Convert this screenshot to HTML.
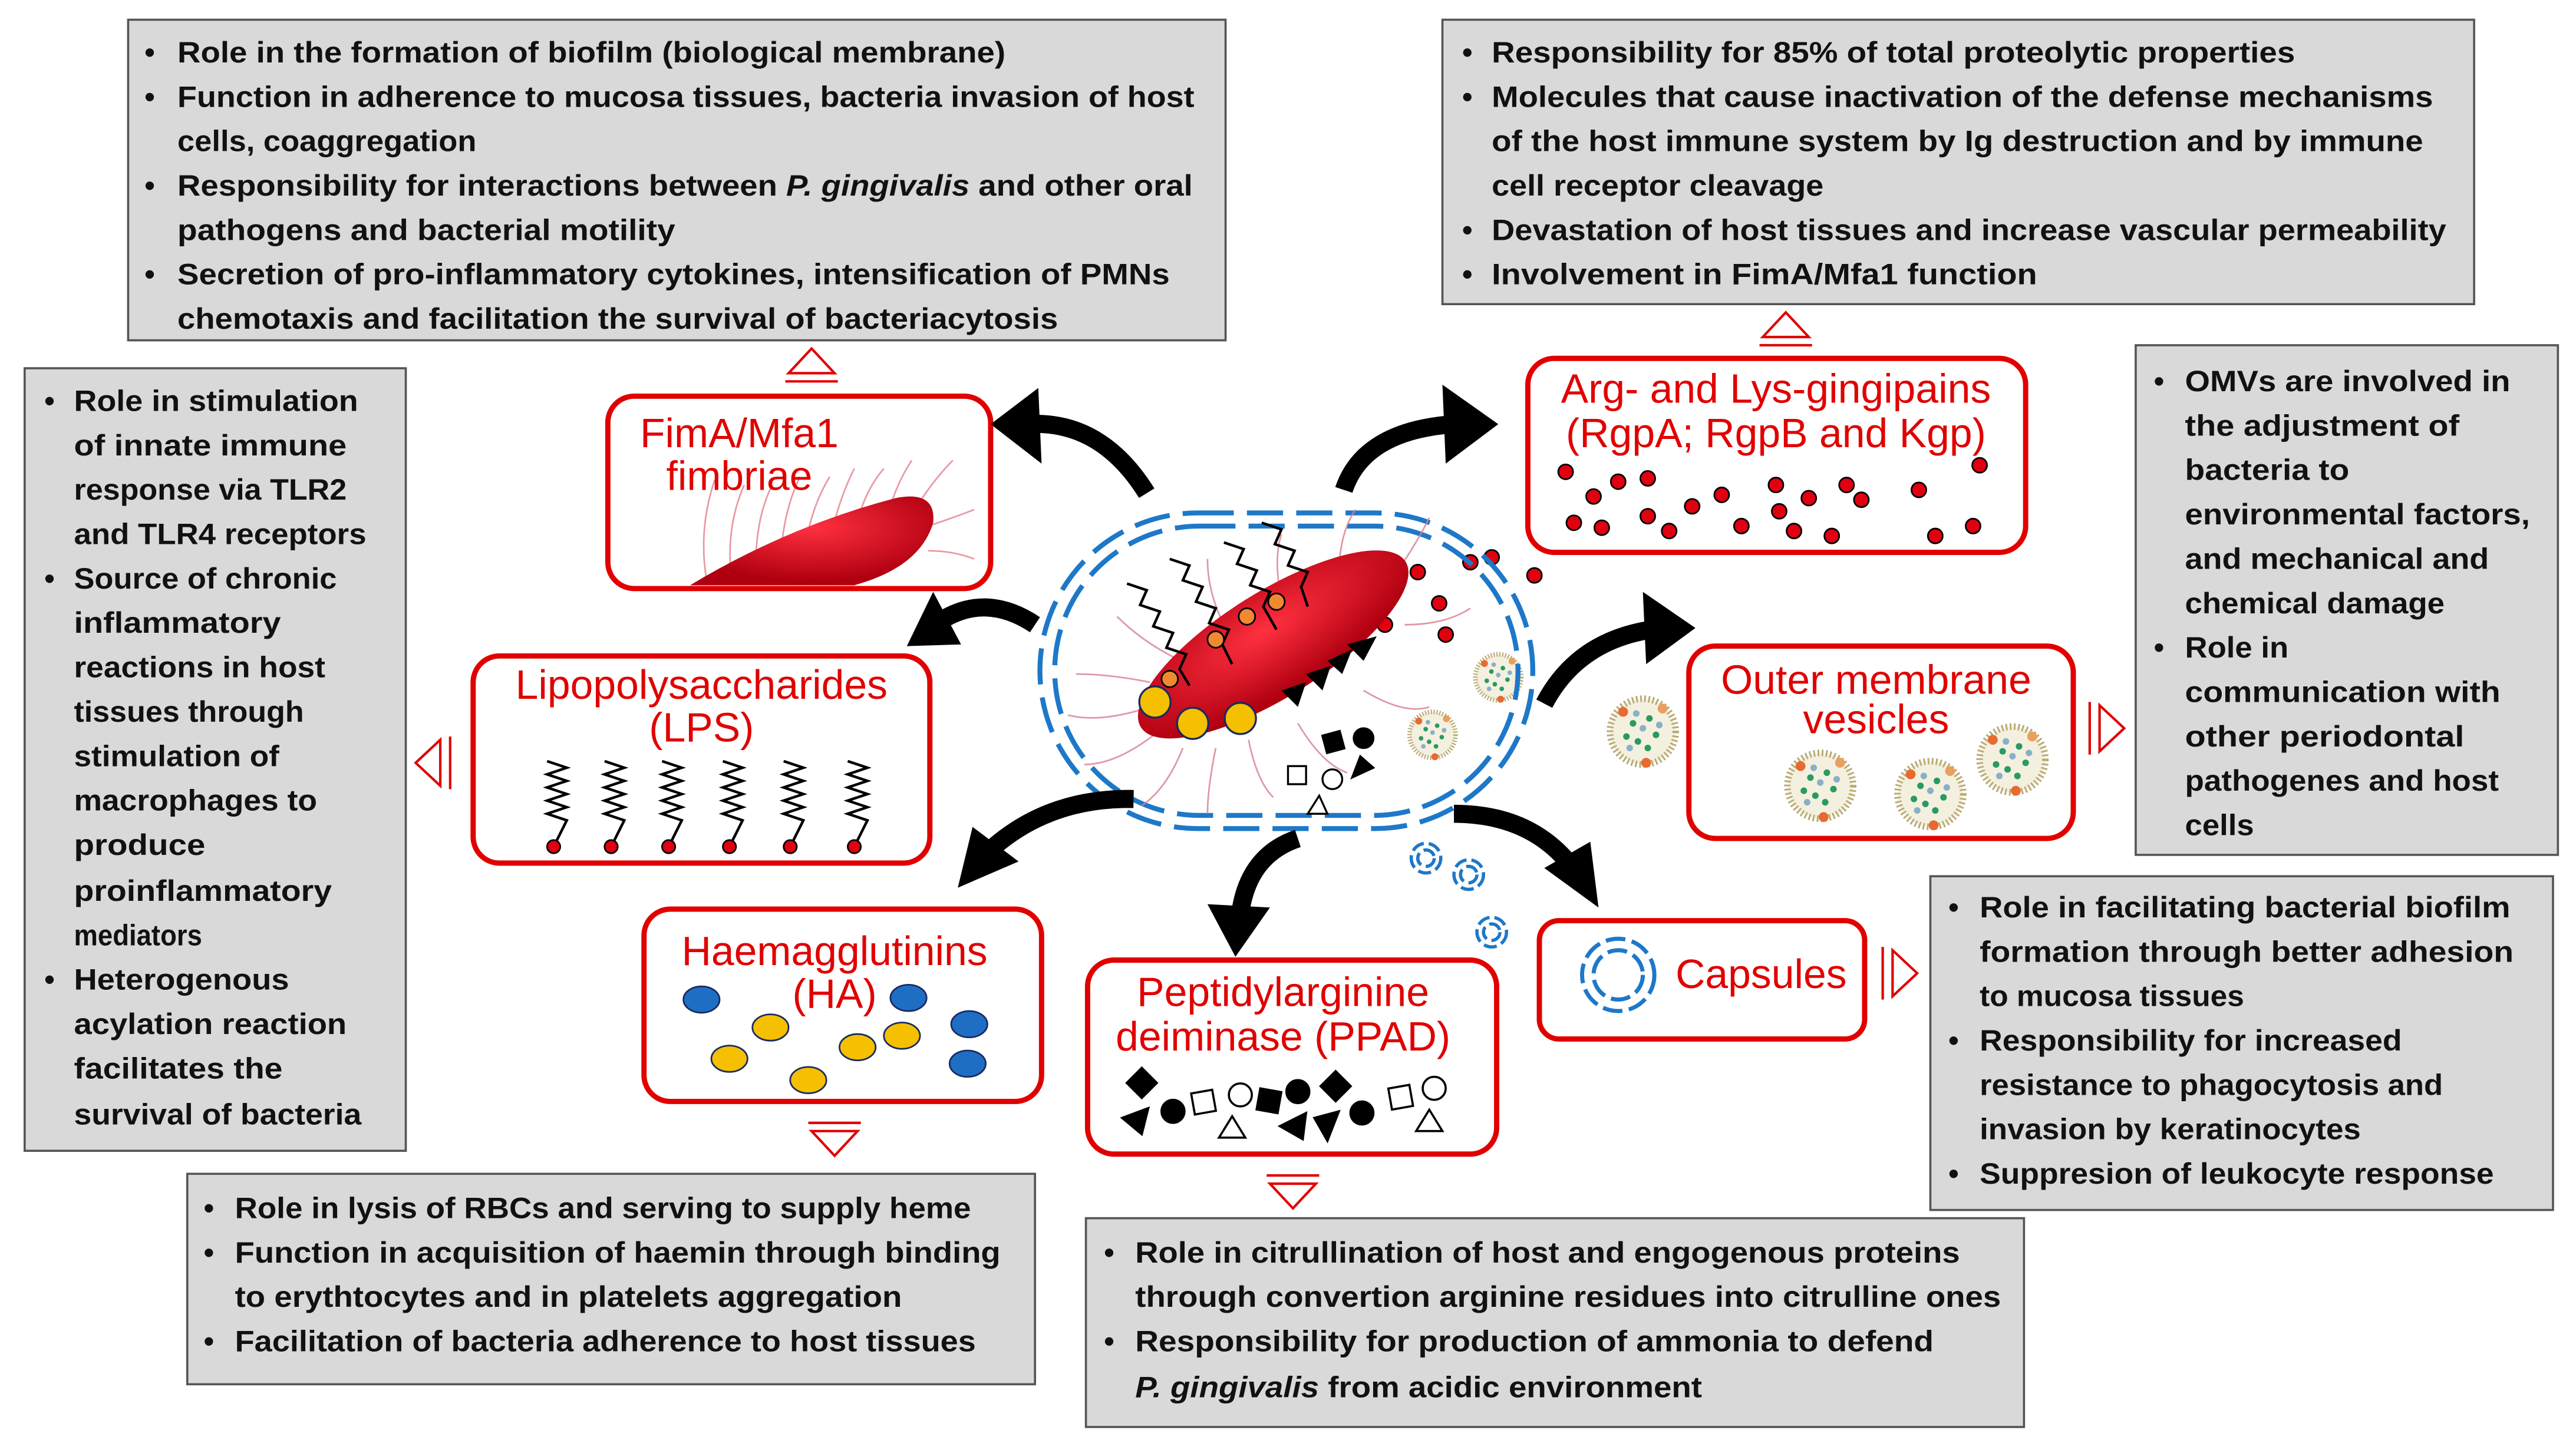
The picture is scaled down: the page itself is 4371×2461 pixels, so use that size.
<!DOCTYPE html>
<html><head><meta charset="utf-8"><style>
html,body{margin:0;padding:0;background:#fff}
svg{display:block}
.t{font-family:"Liberation Sans",sans-serif;font-size:18px;font-weight:bold;fill:#111}
.r{font-family:"Liberation Sans",sans-serif;font-size:25px;fill:#e00000}
.g{fill:#d9d9d9;stroke:#555;stroke-width:1.3}
.rb{fill:#fff;stroke:#e00000;stroke-width:3.2}
.tri{fill:none;stroke:#e00000;stroke-width:1.5}
.ar{fill:none;stroke:#000;stroke-width:11}
</style></head><body>
<svg width="4371" height="2461" viewBox="0 0 1568 882" preserveAspectRatio="none" xmlns="http://www.w3.org/2000/svg">
<defs>
<radialGradient id="bg" cx="0.5" cy="0.35" r="0.6"><stop offset="0" stop-color="#ff3040"/><stop offset="1" stop-color="#b00010"/></radialGradient>
<g id="v"><circle r="20" fill="#f4f0e0" stroke="#b8a870" stroke-width="4" stroke-dasharray="1 1.5"/>
<g fill="#2a9a60"><circle cx="-6" cy="-5" r="2"/><circle cx="4" cy="-8" r="2"/><circle cx="8" cy="2" r="2"/><circle cx="-3" cy="6" r="2"/><circle cx="3" cy="10" r="2"/><circle cx="-10" cy="3" r="2"/></g>
<g fill="#8ab0c8"><circle cx="0" cy="-2" r="2"/><circle cx="-4" cy="-11" r="2"/><circle cx="10" cy="-4" r="2"/><circle cx="-8" cy="10" r="2"/></g>
<circle cx="-12" cy="-12" r="3" fill="#e86a30"/><circle cx="12" cy="-14" r="3" fill="#e8a060"/><circle cx="2" cy="19" r="3" fill="#e86a30"/></g>
<path id="zz" d="M333 463 l12 4 l-12 4 l12 4 l-12 4 l12 4 l-12 4 l12 4 l-12 4 l12 4 l-6 12" fill="none" stroke="#000" stroke-width="1.6"/>
</defs>
<rect class="g" x="78" y="12" width="668" height="195"/>
<rect class="g" x="878" y="12" width="628" height="173"/>
<rect class="g" x="15" y="224" width="232" height="476"/>
<rect class="g" x="1300" y="210" width="257" height="310"/>
<rect class="g" x="1175" y="533" width="379" height="203"/>
<rect class="g" x="114" y="714" width="516" height="128"/>
<rect class="g" x="661" y="741" width="571" height="127"/>

<g class="t">
<text x="88" y="38">•</text><text x="108" y="38" textLength="504" lengthAdjust="spacingAndGlyphs">Role in the formation of biofilm (biological membrane)</text>
<text x="88" y="65">•</text><text x="108" y="65" textLength="619" lengthAdjust="spacingAndGlyphs">Function in adherence to mucosa tissues, bacteria invasion   of host</text>
<text x="108" y="92" textLength="182" lengthAdjust="spacingAndGlyphs">cells, coaggregation</text>
<text x="88" y="119">•</text><text x="108" y="119" textLength="618" lengthAdjust="spacingAndGlyphs">Responsibility for interactions between <tspan font-style="italic">P. gingivalis</tspan> and other oral</text>
<text x="108" y="146" textLength="303" lengthAdjust="spacingAndGlyphs">pathogens and bacterial motility</text>
<text x="88" y="173">•</text><text x="108" y="173" textLength="604" lengthAdjust="spacingAndGlyphs">Secretion of pro-inflammatory cytokines, intensification of PMNs</text>
<text x="108" y="200" textLength="536" lengthAdjust="spacingAndGlyphs">chemotaxis and facilitation the survival of bacteriacytosis</text>
</g>
<g class="t">
<text x="890" y="38">•</text><text x="908" y="38" textLength="489" lengthAdjust="spacingAndGlyphs">Responsibility for 85% of total proteolytic properties</text>
<text x="890" y="65">•</text><text x="908" y="65" textLength="573" lengthAdjust="spacingAndGlyphs">Molecules that cause inactivation of the defense mechanisms</text>
<text x="908" y="92" textLength="567" lengthAdjust="spacingAndGlyphs">of the host immune system  by Ig destruction and by immune</text>
<text x="908" y="119" textLength="202" lengthAdjust="spacingAndGlyphs">cell receptor cleavage</text>
<text x="890" y="146">•</text><text x="908" y="146" textLength="581" lengthAdjust="spacingAndGlyphs">Devastation of host tissues and increase vascular permeability</text>
<text x="890" y="173">•</text><text x="908" y="173" textLength="332" lengthAdjust="spacingAndGlyphs">Involvement in FimA/Mfa1 function</text>
</g>
<g class="t">
<text x="27" y="250">•</text><text x="45" y="250" textLength="173" lengthAdjust="spacingAndGlyphs">Role in stimulation</text>
<text x="45" y="277" textLength="166" lengthAdjust="spacingAndGlyphs">of innate immune</text>
<text x="45" y="304" textLength="166" lengthAdjust="spacingAndGlyphs">response via TLR2</text>
<text x="45" y="331" textLength="178" lengthAdjust="spacingAndGlyphs">and TLR4 receptors</text>
<text x="27" y="358">•</text><text x="45" y="358" textLength="160" lengthAdjust="spacingAndGlyphs">Source of chronic</text>
<text x="45" y="385" textLength="126" lengthAdjust="spacingAndGlyphs">inflammatory</text>
<text x="45" y="412" textLength="153" lengthAdjust="spacingAndGlyphs">reactions in host</text>
<text x="45" y="439" textLength="140" lengthAdjust="spacingAndGlyphs">tissues through</text>
<text x="45" y="466" textLength="125" lengthAdjust="spacingAndGlyphs">stimulation of</text>
<text x="45" y="493" textLength="148" lengthAdjust="spacingAndGlyphs">macrophages to</text>
<text x="45" y="520" textLength="80" lengthAdjust="spacingAndGlyphs">produce</text>
<text x="45" y="548" textLength="157" lengthAdjust="spacingAndGlyphs">proinflammatory</text>
<text x="45" y="575" textLength="78" lengthAdjust="spacingAndGlyphs">mediators</text>
<text x="27" y="602">•</text><text x="45" y="602" textLength="131" lengthAdjust="spacingAndGlyphs">Heterogenous</text>
<text x="45" y="629" textLength="166" lengthAdjust="spacingAndGlyphs">acylation reaction</text>
<text x="45" y="656" textLength="127" lengthAdjust="spacingAndGlyphs">facilitates the</text>
<text x="45" y="684" textLength="175" lengthAdjust="spacingAndGlyphs">survival of bacteria</text>
</g>
<g class="t">
<text x="1311" y="238">•</text><text x="1330" y="238" textLength="198" lengthAdjust="spacingAndGlyphs">OMVs are involved in</text>
<text x="1330" y="265" textLength="167" lengthAdjust="spacingAndGlyphs">the adjustment of</text>
<text x="1330" y="292" textLength="100" lengthAdjust="spacingAndGlyphs">bacteria to</text>
<text x="1330" y="319" textLength="210" lengthAdjust="spacingAndGlyphs">environmental factors,</text>
<text x="1330" y="346" textLength="185" lengthAdjust="spacingAndGlyphs">and mechanical and</text>
<text x="1330" y="373" textLength="158" lengthAdjust="spacingAndGlyphs">chemical damage</text>
<text x="1311" y="400">•</text><text x="1330" y="400" textLength="63" lengthAdjust="spacingAndGlyphs">Role in</text>
<text x="1330" y="427" textLength="192" lengthAdjust="spacingAndGlyphs">communication with</text>
<text x="1330" y="454" textLength="170" lengthAdjust="spacingAndGlyphs">other periodontal</text>
<text x="1330" y="481" textLength="191" lengthAdjust="spacingAndGlyphs">pathogenes and host</text>
<text x="1330" y="508" textLength="42" lengthAdjust="spacingAndGlyphs">cells</text>
</g>
<g class="t">
<text x="1186" y="558">•</text><text x="1205" y="558" textLength="323" lengthAdjust="spacingAndGlyphs">Role in facilitating bacterial biofilm</text>
<text x="1205" y="585" textLength="325" lengthAdjust="spacingAndGlyphs">formation through better adhesion</text>
<text x="1205" y="612" textLength="161" lengthAdjust="spacingAndGlyphs">to mucosa tissues</text>
<text x="1186" y="639">•</text><text x="1205" y="639" textLength="257" lengthAdjust="spacingAndGlyphs">Responsibility for increased</text>
<text x="1205" y="666" textLength="282" lengthAdjust="spacingAndGlyphs">resistance to phagocytosis and</text>
<text x="1205" y="693" textLength="232" lengthAdjust="spacingAndGlyphs">invasion by keratinocytes</text>
<text x="1186" y="720">•</text><text x="1205" y="720" textLength="313" lengthAdjust="spacingAndGlyphs">Suppresion of leukocyte response</text>
</g>
<g class="t">
<text x="124" y="741">•</text><text x="143" y="741" textLength="448" lengthAdjust="spacingAndGlyphs">Role in lysis of RBCs and serving to supply heme</text>
<text x="124" y="768">•</text><text x="143" y="768" textLength="466" lengthAdjust="spacingAndGlyphs">Function in acquisition of haemin through binding</text>
<text x="143" y="795" textLength="406" lengthAdjust="spacingAndGlyphs">to erythtocytes and in platelets aggregation</text>
<text x="124" y="822">•</text><text x="143" y="822" textLength="451" lengthAdjust="spacingAndGlyphs">Facilitation of bacteria adherence to host tissues</text>
</g>
<g class="t">
<text x="672" y="768">•</text><text x="691" y="768" textLength="502" lengthAdjust="spacingAndGlyphs">Role in citrullination of host and engogenous proteins</text>
<text x="691" y="795" textLength="527" lengthAdjust="spacingAndGlyphs">through convertion arginine residues into citrulline ones</text>
<text x="672" y="822">•</text><text x="691" y="822" textLength="486" lengthAdjust="spacingAndGlyphs">Responsibility for production of ammonia to defend</text>
<text x="691" y="850" textLength="345" lengthAdjust="spacingAndGlyphs"><tspan font-style="italic">P. gingivalis</tspan> from acidic environment</text>
</g>

<rect class="rb" x="370" y="241" width="233" height="117" rx="16"/>
<rect class="rb" x="930" y="218" width="303" height="118" rx="16"/>
<rect class="rb" x="288" y="399" width="278" height="126" rx="16"/>
<rect class="rb" x="1028" y="393" width="234" height="117" rx="16"/>
<rect class="rb" x="392" y="553" width="242" height="117" rx="16"/>
<rect class="rb" x="662" y="584" width="249" height="118" rx="16"/>
<rect class="rb" x="937" y="560" width="198" height="72" rx="12"/>

<g stroke="#e07080" stroke-width="1" fill="none" opacity="0.7">
<path d="M430 352 q-5 -30 5 -60"/><path d="M445 350 q-3 -30 8 -55"/><path d="M460 345 q0 -30 10 -50"/><path d="M475 340 q2 -30 12 -50"/><path d="M490 335 q3 -25 15 -45"/><path d="M505 330 q5 -25 15 -45"/><path d="M520 325 q5 -25 18 -40"/><path d="M540 315 q5 -20 15 -35"/><path d="M560 305 q10 -15 20 -25"/><path d="M565 320 q15 -5 28 -10"/><path d="M565 335 q15 0 28 5"/>
</g>
<path d="M420 356 Q480 320 545 303 Q570 298 568 318 Q560 345 520 356 Z" fill="url(#bg)"/>
<text class="r" x="450" y="272" text-anchor="middle">FimA/Mfa1</text>
<text class="r" x="450" y="298" text-anchor="middle">fimbriae</text>

<text class="r" x="1081" y="245" text-anchor="middle">Arg- and Lys-gingipains</text>
<text class="r" x="1081" y="272" text-anchor="middle">(RgpA; RgpB and Kgp)</text>
<g fill="#e00010" stroke="#000" stroke-width="1">
<circle cx="953" cy="287" r="4.5"/><circle cx="985" cy="293" r="4.5"/><circle cx="1003" cy="291" r="4.5"/><circle cx="970" cy="302" r="4.5"/><circle cx="1030" cy="308" r="4.5"/><circle cx="1048" cy="301" r="4.5"/><circle cx="1081" cy="295" r="4.5"/><circle cx="1101" cy="303" r="4.5"/><circle cx="1124" cy="295" r="4.5"/><circle cx="1133" cy="304" r="4.5"/><circle cx="1168" cy="298" r="4.5"/><circle cx="1205" cy="283" r="4.5"/><circle cx="958" cy="318" r="4.5"/><circle cx="975" cy="321" r="4.5"/><circle cx="1003" cy="314" r="4.5"/><circle cx="1016" cy="323" r="4.5"/><circle cx="1060" cy="320" r="4.5"/><circle cx="1083" cy="311" r="4.5"/><circle cx="1092" cy="323" r="4.5"/><circle cx="1115" cy="326" r="4.5"/><circle cx="1178" cy="326" r="4.5"/><circle cx="1201" cy="320" r="4.5"/>
<circle cx="895" cy="342" r="4.5"/><circle cx="908" cy="339" r="4.5"/><circle cx="934" cy="350" r="4.5"/><circle cx="880" cy="386" r="4.5"/><circle cx="876" cy="367" r="4.5"/><circle cx="863" cy="348" r="4.5"/><circle cx="848" cy="358" r="4.5"/><circle cx="840" cy="372" r="4.5"/><circle cx="820" cy="352" r="4.5"/><circle cx="843" cy="380" r="4.5"/>
</g>

<text class="r" x="427" y="425" text-anchor="middle">Lipopolysaccharides</text>
<text class="r" x="427" y="451" text-anchor="middle">(LPS)</text>
<use href="#zz"/><use href="#zz" x="35"/><use href="#zz" x="70"/><use href="#zz" x="107"/><use href="#zz" x="144"/><use href="#zz" x="183"/>
<g fill="#e00010" stroke="#000" stroke-width="1"><circle cx="337" cy="515" r="4"/><circle cx="372" cy="515" r="4"/><circle cx="407" cy="515" r="4"/><circle cx="444" cy="515" r="4"/><circle cx="481" cy="515" r="4"/><circle cx="520" cy="515" r="4"/></g>

<text class="r" x="1142" y="422" text-anchor="middle">Outer membrane</text>
<text class="r" x="1142" y="446" text-anchor="middle">vesicles</text>

<text class="r" x="508" y="587" text-anchor="middle">Haemagglutinins</text>
<text class="r" x="508" y="613" text-anchor="middle">(HA)</text>
<g stroke="#1a2a60" stroke-width="1">
<g fill="#1e6fc4"><ellipse cx="427" cy="608" rx="11" ry="8"/><ellipse cx="553" cy="607" rx="11" ry="8"/><ellipse cx="590" cy="623" rx="11" ry="8"/><ellipse cx="589" cy="647" rx="11" ry="8"/></g>
<g fill="#f5c000"><ellipse cx="469" cy="625" rx="11" ry="8"/><ellipse cx="522" cy="637" rx="11" ry="8"/><ellipse cx="549" cy="630" rx="11" ry="8"/><ellipse cx="444" cy="644" rx="11" ry="8"/><ellipse cx="492" cy="657" rx="11" ry="8"/></g>
</g>

<text class="r" x="781" y="612" text-anchor="middle">Peptidylarginine</text>
<text class="r" x="781" y="639" text-anchor="middle">deiminase (PPAD)</text>
<g stroke="#000" stroke-width="1.3">
<rect x="689" y="652" width="13" height="13" transform="rotate(45 695 658)"/>
<polygon points="683,680 699,674 695,690"/>
<circle cx="714" cy="676" r="7"/>
<rect x="726" y="664" width="13" height="13" fill="#fff" transform="rotate(-10 732 670)"/>
<circle cx="755" cy="666" r="7" fill="#fff"/>
<polygon points="742,692 758,692 750,679" fill="#fff"/>
<rect x="766" y="663" width="13" height="13" transform="rotate(10 772 669)"/>
<circle cx="790" cy="664" r="7"/>
<polygon points="779,685 795,677 793,693"/>
<rect x="807" y="654" width="13" height="13" transform="rotate(45 813 660)"/>
<polygon points="800,680 815,676 808,694"/>
<circle cx="829" cy="677" r="7"/>
<rect x="846" y="661" width="13" height="13" fill="#fff" transform="rotate(-10 852 667)"/>
<circle cx="873" cy="662" r="7" fill="#fff"/>
<polygon points="862,688 878,688 870,675" fill="#fff"/>
</g>

<text class="r" x="1072" y="601" text-anchor="middle">Capsules</text>
<g fill="none" stroke="#1e78c8" stroke-width="2.5" stroke-dasharray="12 4">
<circle cx="985" cy="593" r="22"/><circle cx="985" cy="593" r="15"/>
</g>

<use href="#v" x="1000" y="445"/><use href="#v" x="1108" y="478"/><use href="#v" x="1175" y="483"/><use href="#v" x="1225" y="462"/>
<use href="#v" transform="translate(912 412) scale(0.7)"/><use href="#v" transform="translate(872 447) scale(0.7)"/>

<g fill="none" stroke="#1e78c8" stroke-width="3" stroke-dasharray="22 8">
<rect x="633" y="312" width="300" height="192" rx="96"/>
<rect x="642" y="320" width="282" height="176" rx="88"/>
</g>
<g stroke="#d88090" stroke-width="1" fill="none" opacity="0.8">
<path d="M700 430 q-30 10 -50 5"/><path d="M705 445 q-25 20 -45 20"/><path d="M720 455 q-10 25 -25 35"/><path d="M740 455 q-5 25 -5 40"/><path d="M760 450 q5 25 15 35"/><path d="M790 440 q15 25 30 30"/><path d="M830 420 q25 15 40 10"/><path d="M855 380 q25 0 40 -10"/><path d="M845 355 q15 -20 25 -40"/><path d="M815 350 q0 -25 10 -40"/><path d="M780 365 q-5 -25 0 -40"/><path d="M745 380 q-10 -20 -10 -40"/><path d="M715 400 q-20 -10 -35 -25"/><path d="M700 415 q-25 -5 -45 -5"/>
</g>
<ellipse cx="775" cy="392" rx="95" ry="32" transform="rotate(-32 775 392)" fill="url(#bg)"/>
<g fill="none" stroke="#000" stroke-width="1.6">
<path d="M686 355 l12 4 l-4 9 l12 4 l-4 9 l12 4 l-4 9 l12 4 l-4 9 l6 10"/>
<path d="M712 340 l12 4 l-4 9 l12 4 l-4 9 l12 4 l-4 9 l12 4 l-4 9 l6 12"/>
<path d="M745 330 l12 4 l-4 9 l12 4 l-4 9 l12 4 l-4 9 l8 14"/>
<path d="M768 318 l12 4 l-4 9 l12 4 l-4 9 l12 4 l-4 9 l4 12"/>
</g>
<g fill="#f08a30" stroke="#000" stroke-width="1"><circle cx="712" cy="413" r="5"/><circle cx="740" cy="389" r="5"/><circle cx="759" cy="375" r="5"/><circle cx="777" cy="366" r="5"/></g>
<g fill="#f5c000" stroke="#1a2a60" stroke-width="1.2"><circle cx="703" cy="427" r="9.5"/><circle cx="726" cy="440" r="9.5"/><circle cx="755" cy="437" r="9.5"/></g>
<g fill="#000"><polygon points="780,420 795,415 790,430"/><polygon points="795,410 810,405 805,420"/><polygon points="808,402 823,395 817,410"/><polygon points="820,392 838,387 830,402"/></g>
<g stroke="#000" stroke-width="1.2"><rect x="806" y="446" width="11" height="11" transform="rotate(-15 811 451)"/><circle cx="830" cy="449" r="6"/><polygon points="823,473 836,467 828,460"/><rect x="784" y="466" width="11" height="11" fill="#fff"/><circle cx="811" cy="474" r="6" fill="#fff"/><polygon points="796,495 808,495 803,484" fill="#fff"/></g>
<g fill="none" stroke="#1e78c8" stroke-width="2" stroke-dasharray="8 3"><circle cx="868" cy="522" r="9"/><circle cx="868" cy="522" r="5"/><circle cx="894" cy="532" r="9"/><circle cx="894" cy="532" r="5"/><circle cx="908" cy="567" r="9"/><circle cx="908" cy="567" r="5"/></g>

<g>
<path class="ar" d="M698 300 Q670 255 625 258"/><polygon points="603,258 632,236 634,282" fill="#000"/>
<path class="ar" d="M818 298 Q830 262 885 258"/><polygon points="912,258 878,234 880,282" fill="#000"/>
<path class="ar" d="M630 380 Q600 360 572 378"/><polygon points="552,393 568,360 585,392" fill="#000"/>
<path class="ar" d="M940 428 Q960 390 1005 383"/><polygon points="1032,382 1000,360 1002,404" fill="#000"/>
<path class="ar" d="M690 486 Q640 485 605 515"/><polygon points="583,540 592,503 620,524" fill="#000"/>
<path class="ar" d="M790 510 Q760 520 755 555"/><polygon points="752,582 735,550 773,552" fill="#000"/>
<path class="ar" d="M885 495 Q930 495 955 525"/><polygon points="973,552 940,528 968,512" fill="#000"/>
</g>

<g class="tri">
<polygon points="480,227 508,227 494,212"/><line x1="478" y1="232" x2="510" y2="232"/>
<polygon points="1073,205 1101,205 1087,190"/><line x1="1071" y1="210" x2="1103" y2="210"/>
<polygon points="268,450 268,478 253,464"/><line x1="274" y1="448" x2="274" y2="480"/>
<polygon points="1278,429 1278,457 1293,443"/><line x1="1272" y1="427" x2="1272" y2="459"/>
<polygon points="1152,578 1152,606 1167,592"/><line x1="1146" y1="576" x2="1146" y2="608"/>
<polygon points="494,688 522,688 508,703"/><line x1="492" y1="683" x2="524" y2="683"/>
<polygon points="773,720 801,720 787,735"/><line x1="771" y1="715" x2="803" y2="715"/>
</g>
</svg>
</body></html>
